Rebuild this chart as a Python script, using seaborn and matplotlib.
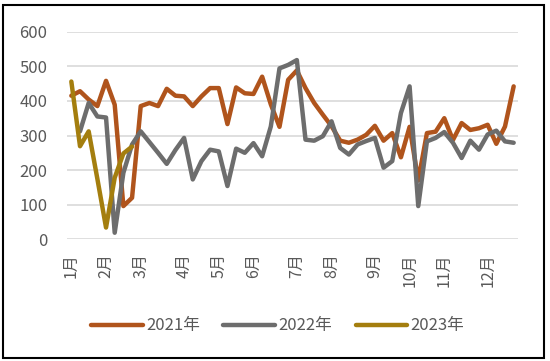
import numpy as np
import pandas as pd
import matplotlib
matplotlib.use('Agg')
import matplotlib.pyplot as plt
import seaborn as sns
from matplotlib.patches import Rectangle

# Weekly values, 52 weeks per year (None = no data)
y2021 = [415, 428, 404, 385, 458, 389, 96, 120, 385, 394, 385, 435, 415,
         413, 385, 413, 437, 437, 333, 439, 422, 420, 470, 390, 325, 461,
         488, 437, 394, 360, 327, 285, 279, 288, 302, 328, 285, 307, 237,
         325, 170, 307, 311, 350, 287, 336, 316, 321, 331, 276, 326, 442]
y2022 = [None, 312, 394, 355, 352, 19, 192, 274, 312, 281, 250, 218, 258,
         293, 173, 226, 259, 254, 154, 262, 250, 278, 240, 326, 494, 504,
         518, 288, 285, 298, 341, 264, 245, 274, 284, 293, 207, 226, 365,
         442, 96, 283, 293, 310, 279, 235, 285, 259, 303, 314, 283, 279]
y2023 = [456, 269, 312, 175, 34, 178, 248, 268]

series_names = ['2021年', '2022年', '2023年']
colors = ['#B0541C', '#6D6D6D', '#A47E0E']
month_labels = ['1月', '2月', '3月', '4月', '5月', '6月', '7月', '8月',
                '9月', '10月', '11月', '12月']
month_weeks = [0, 4, 8, 13, 17, 21, 26, 30, 35, 39, 43, 48]
y_ticks = [0, 100, 200, 300, 400, 500, 600]

# Long-form table for seaborn
frames = []
for name, vals in zip(series_names, [y2021, y2022, y2023]):
    frames.append(pd.DataFrame({'week': np.arange(len(vals)),
                                'value': pd.to_numeric(pd.Series(vals, dtype='object')),
                                'year': name}))
df = pd.concat(frames, ignore_index=True).dropna()

sns.set_style('white')
plt.rcParams['font.family'] = ['Noto Sans CJK SC', 'DejaVu Sans']

fig = plt.figure(figsize=(5.5, 3.61), dpi=100)
ax = fig.add_axes([67 / 550, 1 - 239.3 / 361, 451 / 550, (239.3 - 31.7) / 361])

sns.lineplot(data=df, x='week', y='value', hue='year', hue_order=series_names,
             palette=colors, linewidth=3.2, ax=ax, legend=False)

ax.set_xlim(-0.5, 51.5)
ax.set_ylim(0, 600)
ax.set_yticks(y_ticks)
ax.set_xticks(month_weeks)
ax.set_xticklabels(month_labels, rotation=90)
ax.set_xlabel('')
ax.set_ylabel('')
ax.grid(axis='y', color='#D9D9D9', linewidth=1.2)
ax.grid(axis='x', visible=False)
ax.set_axisbelow(True)
for s in ax.spines.values():
    s.set_visible(False)
ax.tick_params(axis='y', length=0, labelsize=12, labelcolor='#595959', pad=14)
ax.tick_params(axis='x', length=0, labelsize=11.5, labelcolor='#595959', pad=10)

# Legend below the chart
handles = [plt.Line2D([], [], color=c, linewidth=3.2, solid_capstyle='round') for c in colors]
fig.legend(handles, series_names, loc='center', bbox_to_anchor=(0.505, 0.097),
           ncol=3, frameon=False, fontsize=12, labelcolor='#595959',
           handlelength=3.1, handletextpad=0.2, columnspacing=1.4)

# Outer frame
fig.patches.append(Rectangle((3 / 550, 3 / 361), 541 / 550, 353 / 361,
                             transform=fig.transFigure, fill=False,
                             edgecolor='black', linewidth=1.5))

fig.savefig('out.png', dpi=100)
